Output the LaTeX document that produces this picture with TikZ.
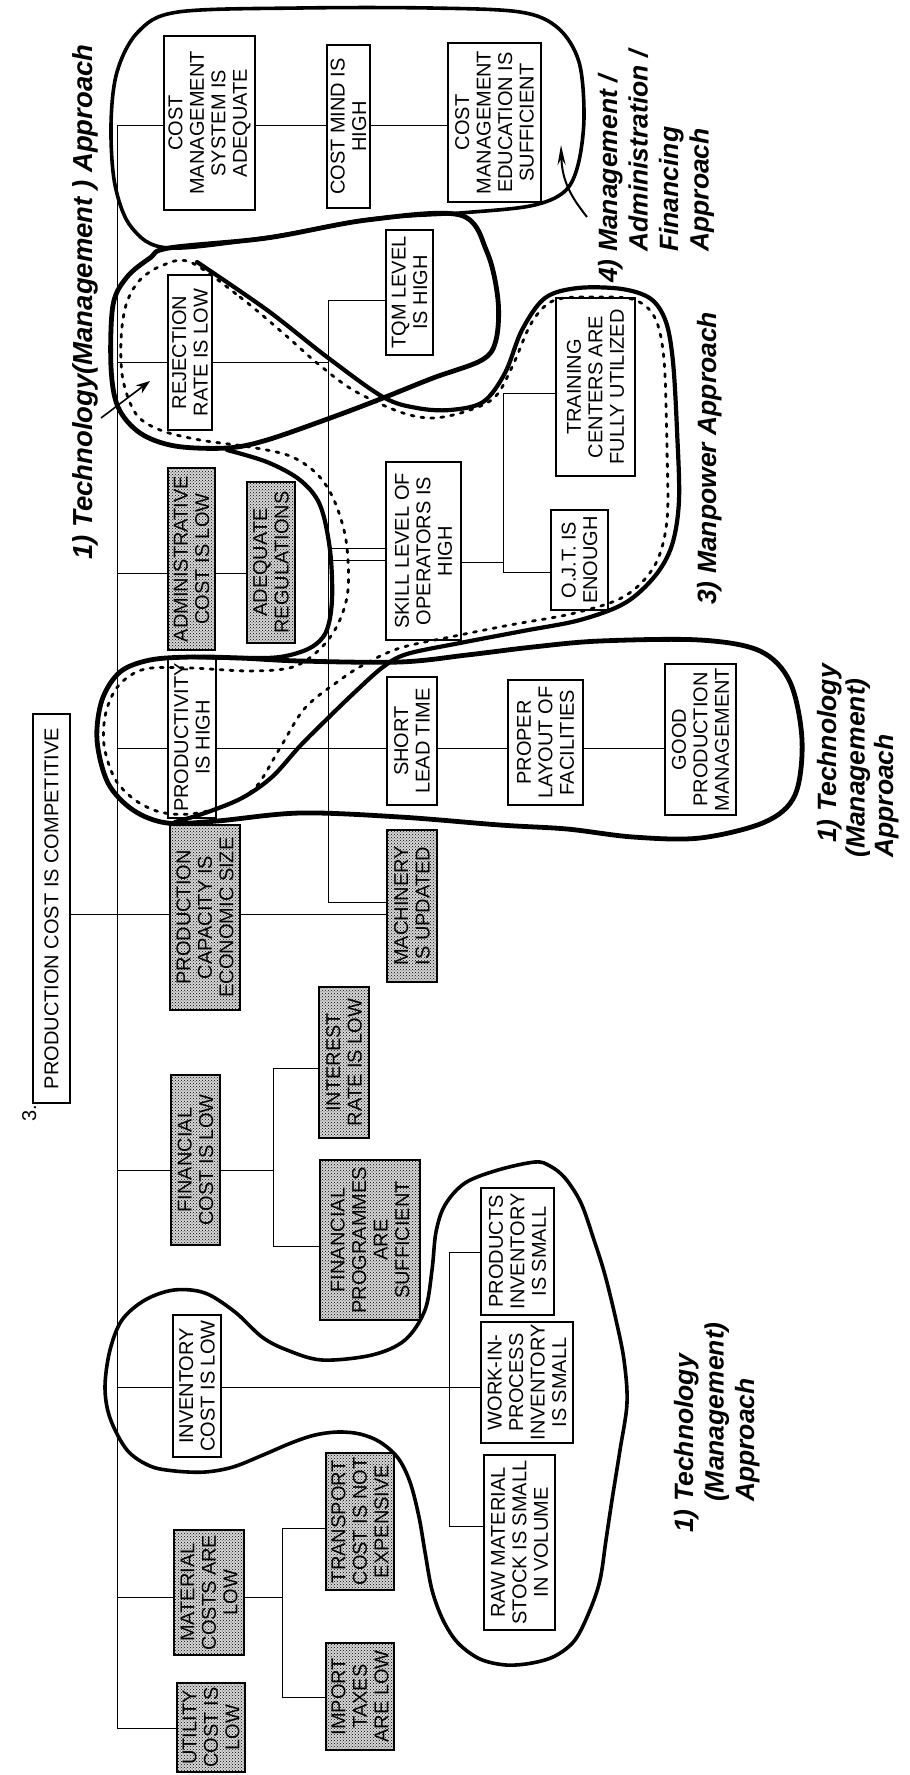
\documentclass[tikz,border=0pt]{standalone}
\usepackage{fontspec}
\setmainfont{Liberation Sans}
\usetikzlibrary{patterns,arrows.meta}
\newcommand\boxfont{\fontsize{20}{21.5}\selectfont}
\newcommand\lblfont{\fontsize{26.5}{30.5}\selectfont\bfseries\itshape}
% \bx{name}{style}{x1}{x2}{y1}{y2}{text}: box spanning x1..x2, y1..y2, text turned upright
\newcommand\bx[7]{\node[#2, minimum width={#6-#5}, minimum height={#4-#3}] (#1) at ({(#3+#4)/2},{(#5+#6)/2}) {#7};}
\tikzset{
  box/.style={draw, line width=1.1pt, fill=white, rotate=90, inner sep=0pt, align=center, font=\boxfont},
  shaded/.style={draw, line width=1.1pt, rotate=90, inner sep=0pt, align=center, font=\boxfont,
                 preaction={fill=black!16}, pattern=crosshatch dots},
  conn/.style={line width=1pt},
  loopA/.style={line width=3.6pt, line cap=round, line join=round},
  loopB/.style={line width=4.8pt, line cap=round, line join=round},
  mpdash/.style={line width=2.8pt, dash pattern=on 3pt off 7pt, line cap=round},
  lbl/.style={rotate=90, anchor=base west, inner sep=0pt, font=\lblfont},
}
\begin{document}
\begin{tikzpicture}[x=1pt, y=-1pt]
\useasboundingbox (0,0) rectangle (910,1775);
\fill[white] (0,0) rectangle (910,1775);

% ---------- boxes ----------
\bx{cms}{box}{164}{255}{36}{210}{COST\\MANAGEMENT\\SYSTEM IS\\ADEQUATE}
\bx{cmind}{box}{327}{370}{45}{208}{COST MIND IS\\HIGH}
\bx{cme}{box}{448}{541}{43}{202}{COST\\MANAGEMENT\\EDUCATION IS\\SUFFICIENT}
\bx{rej}{box}{168}{212}{275}{430}{REJECTION\\RATE IS LOW}
\bx{tqm}{box}{386}{433}{230}{355}{TQM LEVEL\\IS HIGH}
\bx{admin}{shaded}{168}{215}{468}{650}{ADMINISTRATIVE\\COST IS LOW}
\bx{adeq}{shaded}{247}{295}{482}{643}{ADEQUATE\\REGULATIONS}
\bx{skill}{box}{386}{461}{462}{640}{SKILL LEVEL OF\\OPERATORS IS\\HIGH}
\bx{train}{box}{556}{635}{298}{476}{TRAINING\\CENTERS ARE\\FULLY UTILIZED}
\bx{ojt}{box}{551}{608}{510}{610}{O.J.T. IS\\ENOUGH}
\bx{prod}{box}{168}{216}{657}{818}{PRODUCTIVITY\\IS HIGH}
\bx{slt}{box}{387}{437}{677}{805}{SHORT\\LEAD TIME}
\bx{layout}{box}{508}{583}{680}{805}{PROPER\\LAYOUT OF\\FACILITIES}
\bx{gpm}{box}{665}{736}{664}{815}{GOOD\\PRODUCTION\\MANAGEMENT}
\bx{root}{box}{33}{70}{714}{1103}{PRODUCTION COST IS COMPETITIVE}
\bx{cap}{shaded}{170}{240}{825}{1010}{PRODUCTION\\CAPACITY IS\\ECONOMIC SIZE}
\bx{mach}{shaded}{387}{437}{830}{982}{MACHINERY\\IS UPDATED}
\bx{fin}{shaded}{171}{220}{1075}{1245}{FINANCIAL\\COST IS LOW}
\bx{intr}{shaded}{319}{369}{987}{1138}{INTEREST\\RATE IS LOW}
\bx{finprog}{shaded}{320}{420}{1160}{1320}{FINANCIAL\\PROGRAMMES\\ARE\\SUFFICIENT}
\bx{inv}{box}{173}{221}{1315}{1457}{INVENTORY\\COST IS LOW}
\bx{prodinv}{box}{481}{554}{1188}{1315}{PRODUCTS\\INVENTORY\\IS SMALL}
\bx{wip}{box}{481}{573}{1322}{1443}{WORK-IN-\\PROCESS\\INVENTORY\\IS SMALL}
\bx{raw}{box}{484}{555}{1455}{1630}{RAW MATERIAL\\STOCK IS SMALL\\IN VOLUME}
\bx{mat}{shaded}{174}{244}{1530}{1655}{MATERIAL\\COSTS ARE\\LOW}
\bx{transp}{shaded}{326}{394}{1453}{1590}{TRANSPORT\\COST IS NOT\\EXPENSIVE}
\bx{imp}{shaded}{326}{394}{1643}{1750}{IMPORT\\TAXES\\ARE LOW}
\bx{util}{shaded}{177}{245}{1683}{1772}{UTILITY\\COST IS\\LOW}

\node[rotate=90, anchor=base west, inner sep=0pt, font=\boxfont] (fignum) at (36,1122) {3.};

% ---------- tree connectors ----------
\coordinate (tTop) at (117,125);
\coordinate (tBot) at (117,1728);
\draw[conn] (tTop) -- (tBot) -- (util.north |- tBot);
\draw[conn] (tTop) -- (cms.north |- tTop);
\draw[conn] (cms.south |- tTop) -- (cmind.north |- tTop);
\draw[conn] (cmind.south |- tTop) -- (cme.north |- tTop);

\coordinate (jRej) at (117,362);
\coordinate (vTop) at (328,300);
\coordinate (vBot) at (328,902);
\coordinate (jSkA) at (328,548);
\coordinate (jSkB) at (328,560);
\draw[conn] (jRej) -- (rej.north |- jRej);
\draw[conn] (rej.south |- jRej) -- (vTop |- jRej);
\draw[conn] (tqm.north |- vTop) -- (vTop) -- (vBot) -- (mach.north |- vBot);
\draw[conn] (jSkA) -- (skill.north |- jSkA);
\draw[conn] (jSkB) -- (skill.north |- jSkB);

\coordinate (jAdm) at (117,573);
\draw[conn] (jAdm) -- (admin.north |- jAdm);
\draw[conn] (admin.south |- jAdm) -- (adeq.north |- jAdm);

\coordinate (sTop) at (503,393);
\coordinate (sMid) at (503,562);
\coordinate (sBot) at (503,572);
\draw[conn] (skill.south |- sMid) -- (sMid);
\draw[conn] (train.north |- sTop) -- (sTop) -- (sBot) -- (ojt.north |- sBot);

\coordinate (jProd) at (117,748);
\draw[conn] (jProd) -- (prod.north |- jProd);
\draw[conn] (prod.south |- jProd) -- (slt.north |- jProd);
\draw[conn] (slt.south |- jProd) -- (layout.north |- jProd);
\draw[conn] (layout.south |- jProd) -- (gpm.north |- jProd);

\coordinate (jRoot) at (117,914);
\draw[conn] (root.south |- jRoot) -- (cap.north |- jRoot);
\draw[conn] (cap.south |- jRoot) -- (mach.north |- jRoot);

\coordinate (jFin) at (117,1170);
\coordinate (fTop) at (273,1068);
\coordinate (fBot) at (273,1246);
\draw[conn] (jFin) -- (fin.north |- jFin);
\draw[conn] (fin.south |- jFin) -- (fTop |- jFin);
\draw[conn] (intr.north |- fTop) -- (fTop) -- (fBot) -- (finprog.north |- fBot);

\coordinate (jInv) at (117,1387);
\coordinate (iTop) at (449,1252);
\coordinate (iBot) at (449,1526);
\draw[conn] (jInv) -- (inv.north |- jInv);
\draw[conn] (inv.south |- jInv) -- (wip.north |- jInv);
\draw[conn] (prodinv.north |- iTop) -- (iTop) -- (iBot) -- (raw.north |- iBot);

\coordinate (jMat) at (117,1597);
\coordinate (mTop) at (282,1528);
\coordinate (mBot) at (282,1697);
\draw[conn] (jMat) -- (mat.north |- jMat);
\draw[conn] (mat.south |- jMat) -- (mTop |- jMat);
\draw[conn] (transp.north |- mTop) -- (mTop) -- (mBot) -- (imp.north |- mBot);

% ---------- approach outlines ----------
% management / administration / financing
\draw[loopA] plot[smooth cycle, tension=0.55] coordinates {
  (169,248) (132,228) (115,185) (111,125) (117,72) (138,32) (178,12) (300,8) (430,8)
  (520,12) (558,28) (579,62) (584,117) (578,165) (564,192) (530,206) (460,213) (372,219) (270,237)};
% technology loop round rejection / TQM
\draw[loopB] plot[smooth cycle, tension=0.55] coordinates {
  (169,248) (267,238) (367,220) (460,215) (487,252) (498,300) (496,340) (482,360)
  (433,378) (383,398) (333,417) (267,440) (227,448) (175,446) (140,433) (118,407)
  (111,367) (113,305) (127,277) (150,258)};
% manpower outline, solid part
\draw[loopB, line width=4.2pt] plot[smooth, tension=0.55] coordinates {
  (197,262) (267,310) (327,357) (383,397) (417,408) (450,410) (483,402) (505,373)
  (522,330) (545,298) (578,288) (622,289) (651,299) (666,322) (673,362) (677,430)
  (679,500) (672,545) (655,576) (625,603) (580,620) (523,631) (460,643) (407,654)
  (383,667) (355,692) (326,720) (300,746) (272,777) (242,798) (205,813) (175,822)};
\draw[loopB, line width=4.2pt] plot[smooth, tension=0.55] coordinates {
  (227,450) (267,462) (300,480) (320,505) (330,550) (332,600) (326,632) (310,648)
  (280,657) (240,658) (192,657)};
% technology loop round productivity
\draw[loopB] plot[smooth cycle, tension=0.55] coordinates {
  (192,657) (240,658) (300,661) (400,662) (467,655) (533,647) (600,641) (700,640)
  (760,651) (790,682) (802,740) (795,795) (765,822) (700,838) (633,837) (567,829)
  (500,825) (400,817) (300,813) (217,821) (167,823) (133,810) (108,783) (97,740)
  (102,700) (120,672) (150,660)};
% manpower outline, dashed part
\draw[mpdash] plot[smooth cycle, tension=0.55] coordinates {
  (190,262) (240,297) (283,333) (317,363) (353,390) (400,412) (433,418) (467,411)
  (495,397) (513,365) (532,322) (555,300) (600,297) (635,300) (655,318) (664,360)
  (667,450) (667,520) (655,565) (625,596) (575,613) (510,625) (455,636) (400,648)
  (365,664) (340,680) (305,708) (280,748) (255,788) (225,806) (190,814) (160,812)
  (135,800) (115,779) (104,745) (106,712) (119,685) (145,669) (190,668) (250,671)
  (293,667) (320,649) (338,624) (348,590) (346,540) (334,500) (317,474) (290,456)
  (250,447) (200,440) (160,430) (136,414) (123,380) (121,340) (126,305) (139,281)
  (161,266)};
% technology loop round inventory
\draw[loopA] plot[smooth cycle, tension=0.55] coordinates {
  (535,1162) (498,1170) (465,1183) (445,1205) (436,1232) (432,1270) (425,1310)
  (405,1340) (372,1355) (322,1360) (287,1350) (262,1337) (235,1312) (205,1293)
  (174,1290) (145,1300) (122,1320) (110,1350) (105,1387) (110,1418) (127,1450)
  (150,1466) (175,1471) (205,1472) (233,1467) (263,1455) (291,1443) (315,1435)
  (338,1432) (360,1434) (380,1442) (398,1458) (410,1482) (419,1517) (425,1552)
  (432,1590) (443,1620) (458,1643) (480,1659) (506,1665) (532,1663) (555,1656)
  (575,1640) (590,1610) (600,1580) (606,1540) (612,1500) (620,1450) (627,1403)
  (624,1360) (616,1320) (605,1275) (594,1240) (581,1203) (565,1178) (550,1166)};

% ---------- arrows ----------
\coordinate (aTail) at (101,418);
\coordinate (aHead) at (150,381);
\draw[line width=1.6pt, -{Stealth[length=14pt,width=10pt]}] (aTail) -- (aHead);
\coordinate (bTail) at (587,217);
\coordinate (bHead) at (561,145);
\draw[line width=2pt, -{Stealth[length=20pt,width=8pt]}] (bTail) .. controls (572,198) and (562,182) .. (bHead);

% ---------- approach labels ----------
\node[lbl, font=\fontsize{27.5}{31}\selectfont\bfseries\itshape] (techTop) at (92,560)
  {1) Technology(Management ) Approach};
\node[lbl] (mgmtLbl) at (617,283)
  {\begin{tabular}[t]{@{}l@{}l@{}}4)\kern0.28em&Management /\\&Administration /\\&Financing\\&Approach\end{tabular}};
\node[lbl] (mpLbl) at (716,605) {3) Manpower Approach};
\node[lbl, font=\fontsize{26.5}{28.5}\selectfont\bfseries\itshape] (techMid) at (836,858)
  {\begin{tabular}[t]{@{}l@{}}\kern15pt1) Technology\\(Management)\\Approach\end{tabular}};
\node[lbl] (techBot) at (693,1533)
  {\begin{tabular}[t]{@{}l@{}l@{}}1)\kern0.28em&Technology\\&(Management)\\&Approach\end{tabular}};
\end{tikzpicture}
\end{document}
